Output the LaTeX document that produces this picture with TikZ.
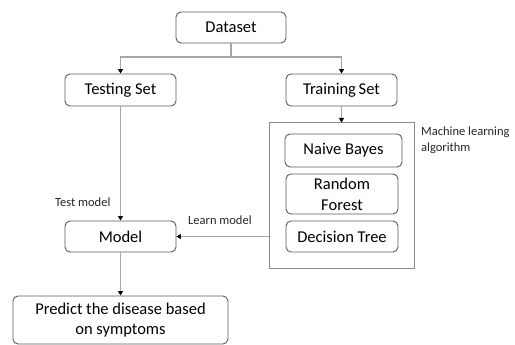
\documentclass[tikz,border=0pt]{standalone}
\usepackage{fontspec}
\setmainfont{Carlito}
\usetikzlibrary{arrows.meta}
\definecolor{conn}{HTML}{A6A6A6}
\definecolor{boxline}{HTML}{5A5A5A}
\definecolor{frameline}{HTML}{8A8A8A}
\tikzset{
  rbox/.style={draw=boxline, line width=0.9pt, rounded corners=5pt, fill=white, align=center,
    font=\fontsize{16.5}{20.7}\selectfont, inner sep=0pt},
  conn/.style={draw=conn, line width=1.3pt, -{Triangle[black,length=4.5pt,width=5pt]}},
  lbl/.style={font=\fontsize{12.5}{16}\selectfont, inner sep=0pt, text=black!85}
}
\begin{document}
\begin{tikzpicture}[x=1pt,y=-1pt]
\useasboundingbox (0,0) rectangle (515,345);
\node[rbox, minimum width=110pt, minimum height=31pt] (data) at (231,27.5) {Dataset};
\node[rbox, minimum width=111pt, minimum height=32pt] (test) at (120.5,90) {Testing Set};
\node[rbox, minimum width=111pt, minimum height=32pt] (train) at (341.5,90) {Training\,Set};
\node[draw=frameline, line width=1pt, minimum width=145pt, minimum height=145pt, inner sep=0pt] (ml) at (341.5,195.5) {};
\node[rbox, minimum width=117pt, minimum height=33pt] (nb) at (343.5,150.5) {Naive Bayes};
\node[rbox, minimum width=112pt, minimum height=40pt] (rf) at (342,194) {Random\\Forest};
\node[rbox, minimum width=112pt, minimum height=31pt] (dt) at (342,236.5) {Decision Tree};
\node[rbox, minimum width=111pt, minimum height=31pt] (model) at (120.5,236.5) {Model};
\node[rbox, minimum width=215pt, minimum height=48pt] (pred) at (120.5,320) {Predict the disease based\\on symptoms};
\node[lbl, anchor=west] (tm) at (55,202) {Test model};
\node[lbl, anchor=west] (lm) at (188,220) {Learn model};
\node[lbl, anchor=north west, align=left] (mla) at (421,127) {Machine learning\\algorithm};
\coordinate (split) at (231,57);
\draw[conn] (data.south) -- (split) -| (test.north);
\draw[conn] (split) -| (train.north);
\draw[conn] (train.south) -- (train.south |- ml.north);
\draw[conn] (test.south) -- (model.north);
\draw[conn] (ml.west |- model.east) -- (model.east);
\draw[conn] (model.south) -- (pred.north);
\end{tikzpicture}
\end{document}
